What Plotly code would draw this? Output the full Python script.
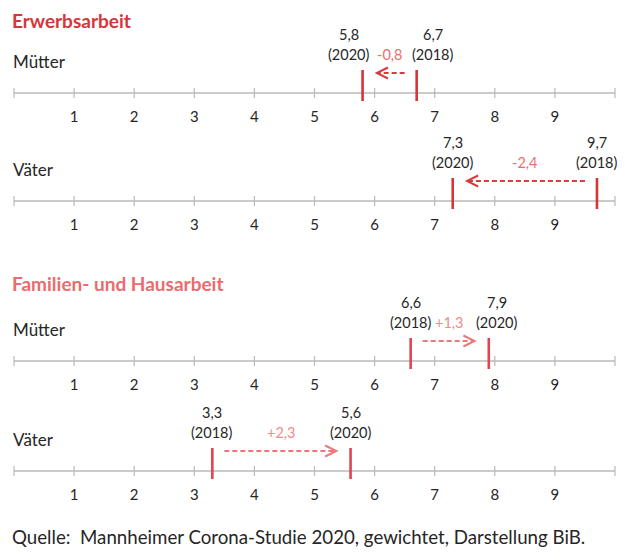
import plotly.graph_objects as go

# ---- data ----
sections = ["Erwerbsarbeit", "Familien- und Hausarbeit"]
row_section = [0, 0, 1, 1]
row_labels = ["Mütter", "Väter", "Mütter", "Väter"]
values_2018 = [6.7, 9.7, 6.6, 3.3]
values_2020 = [5.8, 7.3, 7.9, 5.6]
change_labels = ["-0,8", "-2,4", "+1,3", "+2,3"]
tick_values = [1, 2, 3, 4, 5, 6, 7, 8, 9]
axis_min, axis_max = 0, 10

# ---- layout (page pixel rows; page body has an 8px margin) ----
PAGE_W, PAGE_H, BODY_M = 625, 560, 8
W, H = PAGE_W - BODY_M, PAGE_H - 2 * BODY_M
row_y = [93, 201, 361, 471]
title_y = [20, 283]
shift_2018 = [16, 0, 0, 0]
shift_2020 = [-14, 0, 8, 0]
FONT = "Lato"
sec_title_col = ["#d5363a", "#ec6b6e"]
sec_mark_col = ["#d93338", "#e3434f"]
sec_arrow_col = ["#dc3a3c", "#ee7777"]
sec_delta_col = ["#ec6f6f", "#f08c8a"]
axis_col = "#bababa"
text_col = "#262626"

px0, ppu = 14 - BODY_M, 60.1
xr = [-px0 / ppu, (W - px0) / ppu]
yr = [H + BODY_M, BODY_M]

fig = go.Figure()
ann = []

for i in range(4):
    ya = row_y[i]
    s = row_section[i]
    fig.add_trace(go.Scatter(x=[axis_min, axis_max], y=[ya, ya], mode="lines",
                             line=dict(color=axis_col, width=1.6), hoverinfo="skip"))
    fig.add_trace(go.Scatter(x=list(range(axis_min, axis_max + 1)), y=[ya] * (axis_max - axis_min + 1),
                             mode="markers",
                             marker=dict(symbol="line-ns", size=7, line=dict(color=axis_col, width=1.2)),
                             hoverinfo="skip"))
    fig.add_trace(go.Scatter(x=tick_values, y=[ya + 25] * len(tick_values), mode="text",
                             text=[str(t) for t in tick_values],
                             textfont=dict(family=FONT, size=15, color=text_col), hoverinfo="skip"))
    xs, ys = [], []
    for v in (values_2018[i], values_2020[i]):
        xs += [v, v, None]
        ys += [ya - 23, ya + 8, None]
    fig.add_trace(go.Scatter(x=xs, y=ys, mode="lines",
                             line=dict(color=sec_mark_col[s], width=2.6), hoverinfo="skip"))
    a, b = values_2018[i], values_2020[i]
    d = 1 if b > a else -1
    start, end = a + d * 0.2, b - d * 0.2
    fig.add_trace(go.Scatter(x=[start, end - d * 0.05], y=[ya - 20, ya - 20], mode="lines",
                             line=dict(color=sec_arrow_col[s], width=2, dash="5px,3px"), hoverinfo="skip"))
    ann.append(dict(x=end, y=ya - 20, ax=end - d * 0.12, ay=ya - 20, xref="x", yref="y",
                    axref="x", ayref="y", showarrow=True, arrowhead=5, arrowsize=1.2,
                    arrowwidth=1.8, arrowcolor=sec_arrow_col[s], text=""))
    ann.append(dict(x=0, y=ya - 32, xref="x", yref="y", xanchor="left", showarrow=False,
                    xshift=-3, text=row_labels[i],
                    font=dict(family=FONT, size=17, color=text_col)))
    for v, yrs, sh in ((values_2018[i], "2018", shift_2018[i]), (values_2020[i], "2020", shift_2020[i])):
        ann.append(dict(x=v, y=ya - 59, xref="x", yref="y", showarrow=False, xshift=sh,
                        text=f"{v:.1f}".replace(".", ","),
                        font=dict(family=FONT, size=14.5, color=text_col)))
        ann.append(dict(x=v, y=ya - 39, xref="x", yref="y", showarrow=False, xshift=sh,
                        text=f"({yrs})", font=dict(family=FONT, size=14.5, color=text_col)))
    ann.append(dict(x=(a + b) / 2, y=ya - 39, xref="x", yref="y", showarrow=False,
                    text=change_labels[i], font=dict(family=FONT, size=14.5, color=sec_delta_col[s])))

for k, t in enumerate(sections):
    ann.append(dict(x=0, y=title_y[k], xref="x", yref="y", xanchor="left", showarrow=False,
                    xshift=-4, text=f"<b>{t}</b>",
                    font=dict(family=FONT, size=19, color=sec_title_col[k])))

ann.append(dict(x=0, y=537, xref="x", yref="y", xanchor="left", showarrow=False, xshift=-4,
                text="Quelle:  Mannheimer Corona-Studie 2020, gewichtet, Darstellung BiB.",
                font=dict(family=FONT, size=18.7, color=text_col)))

fig.update_layout(
    width=W, height=H, margin=dict(l=0, r=0, t=0, b=0),
    paper_bgcolor="white", plot_bgcolor="white", showlegend=False,
    xaxis=dict(range=xr, visible=False, fixedrange=True),
    yaxis=dict(range=yr, visible=False, fixedrange=True),
    annotations=ann,
)
fig.write_html("out.html")
